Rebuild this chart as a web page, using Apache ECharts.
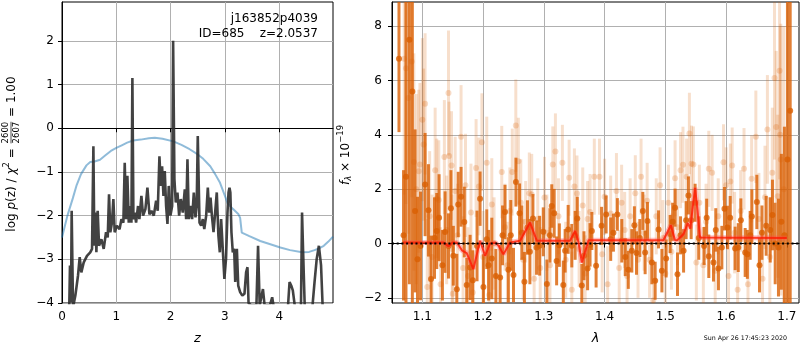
<!DOCTYPE html>
<html><head><meta charset="utf-8">
<script src="https://cdn.jsdelivr.net/npm/echarts@6/dist/echarts.min.js"></script>
<style>html,body{margin:0;padding:0;background:#fff}#c{width:800px;height:350px}</style>
</head><body><div id="c"></div>
<script>
// ---------- Left panel: log p(z) ----------
const pzZ = [0.12,0.135,0.147,0.166,0.178,0.203,0.246,0.295,0.326,0.356,0.40,0.46,0.52,0.553,0.578,0.596,0.614,0.633,0.657,0.682,0.725,0.768,0.811,0.842,0.866,0.89,0.92,0.946,0.97,1.01,1.06,1.094,1.13,1.155,1.18,1.204,1.229,1.26,1.278,1.296,1.315,1.34,1.364,1.40,1.425,1.462,1.493,1.536,1.573,1.61,1.647,1.69,1.733,1.763,1.794,1.819,1.843,1.868,1.892,1.917,1.942,1.966,1.997,2.028,2.046,2.07,2.095,2.126,2.157,2.187,2.224,2.261,2.286,2.31,2.335,2.366,2.396,2.427,2.458,2.48,2.50,2.532,2.562,2.593,2.62,2.655,2.685,2.71,2.735,2.76,2.79,2.82,2.85,2.88,2.906,2.93,2.96,2.99,3.02,3.047,3.066,3.084,3.10,3.12,3.145,3.17,3.19,3.22,3.245,3.28,3.32,3.36,3.39,3.415,3.435,3.48,3.58,3.61,3.64,3.70,3.73,3.83,3.87,3.90,4.16,4.19,4.22,4.25,4.29,4.40,4.42,4.44,4.47,4.61,4.65,4.69,4.73,4.77,4.80,4.99];
const pzLog = [-4.3,-4.0,-3.14,-3.98,-1.89,-4.1,-3.83,-3.37,-2.95,-3.3,-3.07,-2.92,-2.84,-2.76,-0.41,-2.69,-1.93,-2.84,-1.89,-2.69,-2.54,-2.76,-2.38,-2.5,-1.51,-2.38,-2.16,-1.62,-2.38,-2.23,-2.31,-2.08,-2.16,-0.79,-2.08,-1.09,-2.16,-1.78,-2.16,1.15,-2.08,-1.93,-2.16,-1.78,-2.08,-1.55,-2.0,-1.85,-1.36,-1.97,-1.89,-2.0,-1.66,-1.89,-0.64,-1.32,-0.87,-1.55,-0.98,-1.78,-2.19,-1.32,-2.0,-1.78,2.0,-1.17,-1.70,-1.47,-2.0,-1.62,-1.93,-1.40,-2.08,-0.71,-2.08,-1.78,-2.08,-1.47,-2.04,-1.78,-0.18,-2.16,-2.23,-2.08,-2.31,-2.0,-1.36,-1.93,-1.59,-2.0,-2.38,-1.93,-1.47,-2.46,-2.84,-2.08,-2.76,-3.45,-2.99,-1.93,-1.47,-1.36,-1.47,-2.38,-2.84,-2.76,-3.52,-2.76,-3.6,-3.75,-3.83,-3.79,-3.30,-3.18,-4.0,-4.05,-4.05,-2.69,-4.05,-3.68,-4.05,-4.05,-3.87,-4.1,-4.1,-3.52,-3.6,-3.71,-4.1,-4.1,-1.93,-2.84,-4.1,-4.1,-3.52,-2.99,-2.69,-3.14,-4.1,-4.3];
const priorZ = [0,0.1,0.2,0.27,0.35,0.45,0.52,0.6,0.7,0.8,0.9,1.0,1.1,1.2,1.31,1.45,1.6,1.71,1.85,2.05,2.2,2.35,2.5,2.6,2.73,2.82,2.91,3.0,3.05,3.15,3.25,3.28,3.31,3.45,3.65,3.85,4.02,4.2,4.42,4.55,4.65,4.75,4.82,4.9,4.99];
const priorLog = [-2.5,-2.0,-1.6,-1.3,-1.05,-0.85,-0.77,-0.76,-0.72,-0.62,-0.52,-0.45,-0.39,-0.33,-0.28,-0.26,-0.23,-0.22,-0.24,-0.30,-0.38,-0.48,-0.60,-0.70,-0.87,-1.05,-1.25,-1.55,-1.72,-1.85,-1.97,-2.05,-2.39,-2.47,-2.58,-2.66,-2.73,-2.79,-2.84,-2.83,-2.79,-2.74,-2.69,-2.6,-2.48];
const zTicks = [0,1,2,3,4];
const logTicks = [-4,-3,-2,-1,0,1,2];

// ---------- Right panel: spectrum ----------
const darkWave = [1.0615,1.069,1.073,1.0786,1.0835,1.088,1.092,1.097,1.1045,1.11,1.1143,1.12,1.1237,1.1275,1.133,1.1374,1.143,1.147,1.151,1.1567,1.159,1.1637,1.169,1.173,1.1786,1.183,1.19,1.195,1.2005,1.206,1.209,1.2143,1.221,1.228,1.232,1.236,1.2416,1.2455,1.25,1.254,1.26,1.2637,1.268,1.273,1.277,1.282,1.288,1.293,1.299,1.305,1.31,1.313,1.317,1.321,1.3255,1.332,1.335,1.34,1.346,1.3515,1.355,1.3625,1.366,1.372,1.376,1.379,1.386,1.395,1.4025,1.41,1.4145,1.421,1.4283,1.434,1.439,1.4448,1.449,1.4525,1.458,1.4629,1.4667,1.4705,1.4778,1.4832,1.4888,1.4943,1.5013,1.5079,1.512,1.516,1.52,1.525,1.53,1.5342,1.538,1.5425,1.549,1.555,1.5638,1.568,1.5715,1.5792,1.583,1.5874,1.593,1.5973,1.6022,1.6067,1.6149,1.62,1.6243,1.6314,1.635,1.6396,1.6424,1.6506,1.655,1.659,1.666,1.6726,1.6763,1.6808,1.6862,1.691,1.696,1.701,1.7055];
const darkFlux = [6.8,0.3,2.46,7.5,5.6,1.2,-0.58,-0.09,2.17,1.22,-1.31,0.2,0.46,0.95,-0.8,0.42,-0.09,1.3,-0.45,-1.68,1.44,1.72,0.79,-1.53,-0.88,-1.35,-0.09,1.65,-1.6,0.16,-0.8,-0.55,-1.2,-1.25,0.3,1.16,-0.97,0.3,-1.16,2.26,1.11,0.4,-1.41,0.59,-0.3,0.92,-0.15,-0.08,0.43,-1.49,0.3,1.38,1.11,-0.64,-0.06,-1.53,-0.27,0.52,-0.08,0.3,0.92,-1.55,-0.45,-0.92,-0.05,0.46,-0.82,0.65,1.07,0.16,0.4,1.07,0.1,-0.5,-0.97,-0.27,0.67,-0.35,0.2,1.2,-0.33,0.83,-0.7,-1.37,0.52,-1.0,-0.55,0.35,0.8,1.32,-1.13,0.3,-0.27,0.86,1.77,0.86,1.5,0.2,-0.09,0.95,-0.47,-0.7,0.5,-0.92,-0.15,1.28,0.59,0.95,-0.18,-0.15,0.86,-0.33,-0.4,0.3,0.99,1.53,-0.8,0.4,0.65,0.5,1.05,0.0,-0.15,0.8,0.3,3.09,4.89];
const darkErr = [2.7,2.4,11,9,8,3.0,2.3,2.0,1.9,1.7,1.6,1.5,1.4,1.6,1.3,1.5,1.2,1.4,1.1,1.3,1.2,1.1,1.3,1.0,1.2,1.1,1.3,1.0,1.2,1.1,1.3,1.5,1.0,1.2,1.1,1.0,1.2,1.3,1.0,0.9,1.1,1.0,1.1,1.0,1.2,0.9,1.0,1.1,0.9,0.9,1.0,0.8,0.9,0.9,0.8,0.9,0.8,0.9,0.8,0.9,0.8,0.8,0.9,0.8,0.8,0.7,0.8,0.7,0.7,0.8,0.7,0.6,0.8,0.7,0.7,0.8,0.7,0.8,0.7,0.7,0.8,0.7,0.8,0.7,0.7,0.8,0.7,0.7,0.7,0.7,0.8,0.7,0.8,0.7,0.7,0.7,0.7,0.8,0.7,0.7,0.8,0.7,0.8,0.8,0.8,0.8,0.8,0.8,0.8,0.9,0.8,0.9,0.9,0.9,1.0,1.0,1.0,1.0,1.1,1.2,1.3,1.5,1.8,2.5,4.0,12,12];

const lightWave = [1.07,1.073,1.077,1.0825,1.086,1.09,1.094,1.096,1.1,1.102,1.1045,1.108,1.112,1.116,1.121,1.1237,1.127,1.13,1.1362,1.14,1.143,1.144,1.148,1.149,1.15,1.154,1.158,1.1637,1.167,1.171,1.175,1.18,1.183,1.1884,1.193,1.198,1.2,1.206,1.21,1.2143,1.218,1.2307,1.236,1.24,1.244,1.248,1.2538,1.258,1.262,1.266,1.27,1.276,1.28,1.284,1.29,1.294,1.301,1.305,1.31,1.3147,1.319,1.324,1.3305,1.336,1.3416,1.346,1.3503,1.3545,1.358,1.364,1.368,1.372,1.376,1.383,1.3916,1.396,1.4,1.405,1.41,1.4195,1.424,1.428,1.433,1.437,1.442,1.4505,1.455,1.46,1.465,1.47,1.474,1.48,1.485,1.4913,1.496,1.5,1.505,1.51,1.516,1.52,1.525,1.529,1.535,1.5396,1.543,1.5461,1.551,1.556,1.5625,1.567,1.5715,1.577,1.582,1.587,1.5957,1.6,1.604,1.607,1.61,1.614,1.619,1.624,1.6295,1.636,1.642,1.649,1.654,1.66,1.664,1.668,1.672,1.676,1.6797,1.6825,1.685,1.688,1.689,1.69,1.695];
const lightFlux = [6.8,6.45,5.36,6.7,3.0,2.0,2.66,2.91,4.56,3.64,5.14,-1.6,1.0,-0.5,2.7,1.66,1.6,-1.5,3.18,0.5,5.54,3.22,2.87,-0.2,-1.85,1.93,0.3,3.93,-0.9,2.14,-1.2,1.14,-1.8,2.78,2.1,3.73,-0.5,2.97,-1.9,1.44,0.0,2.63,0.6,-0.8,1.2,2.63,4.34,3.03,1.5,-0.6,0.8,1.85,1.8,-1.3,0.9,-0.9,1.69,0.4,-0.8,2.91,3.39,1.0,2.97,-0.6,2.42,-1.7,2.1,1.84,-0.2,1.4,-1.1,0.9,1.16,2.46,2.46,-0.4,1.72,-1.5,1.1,1.93,-0.9,1.5,0.5,-1.2,1.0,1.85,-0.6,2.46,0.4,1.57,-0.6,-2.1,1.0,2.14,0.2,-1.1,1.5,-0.3,2.4,0.6,2.7,2.9,2.46,4.05,2.94,2.91,-0.7,1.5,-0.8,0.8,2.75,2.6,-1.0,1.0,2.99,2.14,-1.2,2.28,2.87,0.4,-1.7,1.2,2.75,-1.5,2.38,3.93,0.9,-1.3,1.7,4.2,-0.5,2.6,6.09,4.29,1.74,6.36,4.0,3.09,2.0];
const lightErr = [5,5,5,5,4,3.5,3,3,3,2.8,2.6,2.5,2.4,2.3,2.3,2.2,2.2,2.1,2.1,2.0,2.3,2.0,2.0,2.0,2.0,2.0,1.9,1.9,1.9,1.9,1.8,1.8,1.8,1.8,1.8,1.8,1.7,1.7,1.7,1.7,1.7,1.7,1.6,1.6,1.6,1.6,1.7,1.6,1.6,1.5,1.5,1.5,1.5,1.5,1.5,1.5,1.5,1.4,1.4,1.4,1.4,1.4,1.4,1.4,1.4,1.4,1.4,1.4,1.4,1.4,1.4,1.4,1.4,1.4,1.4,1.4,1.4,1.4,1.4,1.4,1.4,1.4,1.4,1.4,1.4,1.4,1.4,1.4,1.4,1.4,1.4,1.4,1.4,1.4,1.4,1.4,1.4,1.4,1.4,1.4,1.4,1.4,1.4,1.5,1.4,1.4,1.4,1.4,1.4,1.4,1.4,1.4,1.4,1.4,1.4,1.4,1.4,1.4,1.4,1.5,1.5,1.5,1.5,1.5,1.6,1.7,1.7,1.8,1.9,2.0,2.2,2.4,3,2.8,3,4,4,5,6];

const modelWave = [1.068,1.1346,1.143,1.1495,1.157,1.165,1.173,1.184,1.195,1.2033,1.2115,1.22,1.226,1.2334,1.2444,1.2609,1.2773,1.2884,1.343,1.3515,1.357,1.3625,1.3735,1.4968,1.509,1.516,1.52,1.53,1.537,1.541,1.546,1.549,1.553,1.557,1.70];
const modelFlux = [0.04,0.04,-0.1,0.04,0.04,-0.25,-0.35,-0.94,0.1,-0.45,0.0,0.04,-0.1,-0.4,0.04,0.1,0.77,0.1,0.1,0.46,0.05,-0.7,0.12,0.12,0.67,0.12,0.13,0.35,0.75,0.55,1.5,2.05,1.2,0.22,0.2];

const lamTicks = [1.1,1.2,1.3,1.4,1.5,1.6,1.7];
const fluxTicks = [-2,0,2,4,6,8];

// ---------- layout helpers ----------
const FONT = 'DejaVu Sans';
const R_YMIN = -2.19, R_YMAX = 8.89;
const minus = v => String(v).replace('-', '\u2212');
const ctx = document.createElement('canvas').getContext('2d');
function tw(t, size, italic) { ctx.font = (italic ? 'italic ' : '') + size + 'px "' + FONT + '"'; return ctx.measureText(t).width; }
function rotLabel(pieces, cx, cy) {
  pieces.forEach(p => { p.w = p.frac ? Math.max(tw(p.frac[0], p.size), tw(p.frac[1], p.size)) + 2 : tw(p.t, p.size, p.italic); });
  const total = pieces.reduce((s, p) => s + p.w, 0);
  let x = -total / 2; const children = [];
  pieces.forEach(p => {
    const base = { fontSize: p.size, fontFamily: FONT, fill: '#000', verticalAlign: 'middle', align: 'left', textVerticalAlign: 'middle', textAlign: 'left' };
    if (p.frac) {
      children.push({ type: 'text', x: x + 1, y: -6, style: Object.assign({}, base, { text: p.frac[0] }) });
      children.push({ type: 'text', x: x + 1, y: 4.5, style: Object.assign({}, base, { text: p.frac[1] }) });
      children.push({ type: 'line', shape: { x1: x + 1, y1: -1, x2: x + p.w - 1, y2: -1 }, style: { stroke: '#000', lineWidth: 0.7 } });
    } else {
      children.push({ type: 'text', x: x, y: p.dy || 0, style: Object.assign({}, base, { text: p.t, fontStyle: p.italic ? 'italic' : 'normal' }) });
    }
    x += p.w;
  });
  return { type: 'group', x: cx, y: cy, rotation: Math.PI / 2, children };
}

function errBar(color) {
  return function (params, api) {
    const x = api.value(0), y = api.value(1), e = api.value(2);
    const lo = Math.max(R_YMIN, y - e), hi = Math.min(R_YMAX, y + e);
    const p1 = api.coord([x, lo]), p2 = api.coord([x, hi]);
    return { type: 'line', shape: { x1: p1[0], y1: p1[1], x2: p2[0], y2: p2[1] }, style: { stroke: color, lineWidth: 3 } };
  };
}

const zip2 = (a, b) => a.map((v, i) => [v, b[i]]);
const zip3 = (a, b, c) => a.map((v, i) => [v, b[i], c[i]]);

const axisCommon = {
  axisLine: { show: true, lineStyle: { color: '#000', width: 1 } },
  axisTick: { show: true, length: 4, lineStyle: { color: '#000' } },
  splitLine: { show: true, lineStyle: { color: '#b0b0b0', width: 1 } },
  axisLabel: { color: '#000', fontSize: 12, fontFamily: FONT, hideOverlap: false }
};
function ax(extra) { return echarts.util.merge(echarts.util.clone(axisCommon), extra, true); }

const chart = echarts.init(document.getElementById('c'), null, { renderer: 'canvas' });
chart.setOption({
  animation: false,
  backgroundColor: '#fff',
  textStyle: { fontFamily: FONT },
  grid: [
    { left: 62, top: 2, width: 271, height: 302, show: true, borderColor: '#000', borderWidth: 1, backgroundColor: 'transparent' },
    { left: 392, top: 2, width: 407, height: 302, show: true, borderColor: '#000', borderWidth: 1, backgroundColor: 'transparent' }
  ],
  xAxis: [
    ax({ type: 'value', gridIndex: 0, min: 0, max: 4.99, name: 'z', nameLocation: 'middle', nameGap: 29,
      nameTextStyle: { fontSize: 13, fontStyle: 'italic', fontFamily: FONT, color: '#000' },
      axisTick: { customValues: zTicks }, axisLabel: { margin: 8, customValues: zTicks, formatter: v => minus(v) } }),
    ax({ type: 'value', gridIndex: 1, min: 1.05, max: 1.72, name: 'λ', nameLocation: 'middle', nameGap: 29,
      nameTextStyle: { fontSize: 13, fontStyle: 'italic', fontFamily: FONT, color: '#000' },
      axisTick: { customValues: lamTicks }, axisLabel: { margin: 8, customValues: lamTicks, formatter: v => v.toFixed(1) } })
  ],
  yAxis: [
    ax({ type: 'value', gridIndex: 0, min: -4, max: 2.89, axisTick: { customValues: logTicks },
      axisLabel: { margin: 8, customValues: logTicks, formatter: v => minus(v) } }),
    ax({ type: 'value', gridIndex: 1, min: R_YMIN, max: R_YMAX, axisTick: { customValues: fluxTicks },
      axisLabel: { margin: 10, customValues: fluxTicks, formatter: v => minus(v) } })
  ],
  series: [
    { type: 'line', name: 'prior', xAxisIndex: 0, yAxisIndex: 0, data: zip2(priorZ, priorLog), showSymbol: false, symbol: 'none',
      lineStyle: { color: 'rgba(31,119,180,0.5)', width: 2 }, z: 2 },
    { type: 'line', name: 'log p(z)', xAxisIndex: 0, yAxisIndex: 0, data: zip2(pzZ, pzLog), showSymbol: false, symbol: 'none',
      lineStyle: { color: 'rgba(45,45,45,0.9)', width: 2.6 }, z: 3 },
    { type: 'custom', name: 'light err', xAxisIndex: 1, yAxisIndex: 1, data: zip3(lightWave, lightFlux, lightErr), encode: { x: 0, y: 1 },
      renderItem: errBar('rgba(217,95,2,0.2)'), clip: true, z: 2 },
    { type: 'scatter', name: 'light', xAxisIndex: 1, yAxisIndex: 1, data: zip2(lightWave, lightFlux), symbolSize: 6,
      itemStyle: { color: 'rgba(217,95,2,0.28)' }, z: 3 },
    { type: 'custom', name: 'dark err', xAxisIndex: 1, yAxisIndex: 1, data: zip3(darkWave, darkFlux, darkErr), encode: { x: 0, y: 1 },
      renderItem: errBar('rgba(217,95,2,0.8)'), clip: true, z: 4 },
    { type: 'scatter', name: 'dark', xAxisIndex: 1, yAxisIndex: 1, data: zip2(darkWave, darkFlux), symbolSize: 6,
      itemStyle: { color: '#d95f02' }, z: 5 },
    { type: 'line', name: 'model halo', xAxisIndex: 1, yAxisIndex: 1, data: zip2(modelWave, modelFlux), showSymbol: false, symbol: 'none',
      lineStyle: { color: 'rgba(255,80,80,0.35)', width: 5 }, z: 6 },
    { type: 'line', name: 'model', xAxisIndex: 1, yAxisIndex: 1, data: zip2(modelWave, modelFlux), showSymbol: false, symbol: 'none',
      lineStyle: { color: 'rgba(255,25,0,0.8)', width: 2 }, z: 7 },
    { type: 'line', name: 'zero', xAxisIndex: 1, yAxisIndex: 1, data: [[1.05, 0], [1.72, 0]], showSymbol: false, symbol: 'none',
      lineStyle: { color: '#000', width: 2, type: [2, 2.7] }, z: 8 }
  ],
  graphic: [
    { type: 'text', right: 800 - 318, top: 13, z: 10, style: { text: 'j163852p4039', fontSize: 12, fontFamily: FONT, fill: '#000' } },
    { type: 'text', right: 800 - 318, top: 28, z: 10, style: { text: 'ID=685    z=2.0537', fontSize: 12, fontFamily: FONT, fill: '#000' } },
    { type: 'text', right: 800 - 787, top: 335, z: 10, style: { text: 'Sun Apr 26 17:45:23 2020', fontSize: 6.3, fontFamily: FONT, fill: '#000' } },
    rotLabel([
      { t: 'log ', size: 12 }, { t: 'p', size: 12, italic: true }, { t: '(z) / ', size: 12 }, { t: 'χ', size: 12, italic: true },
      { t: '2', size: 8.5, dy: -5 }, { t: ' = ', size: 12 }, { frac: ['2600', '2607'], size: 8.5 }, { t: ' = 1.00', size: 12 }
    ], 12, 154),
    rotLabel([
      { t: 'f', size: 12, italic: true }, { t: 'λ', size: 8.5, italic: true, dy: 3 }, { t: ' × 10', size: 12 }, { t: '−19', size: 8.5, dy: -5 }
    ], 346, 155)
  ]
});
</script></body></html>
